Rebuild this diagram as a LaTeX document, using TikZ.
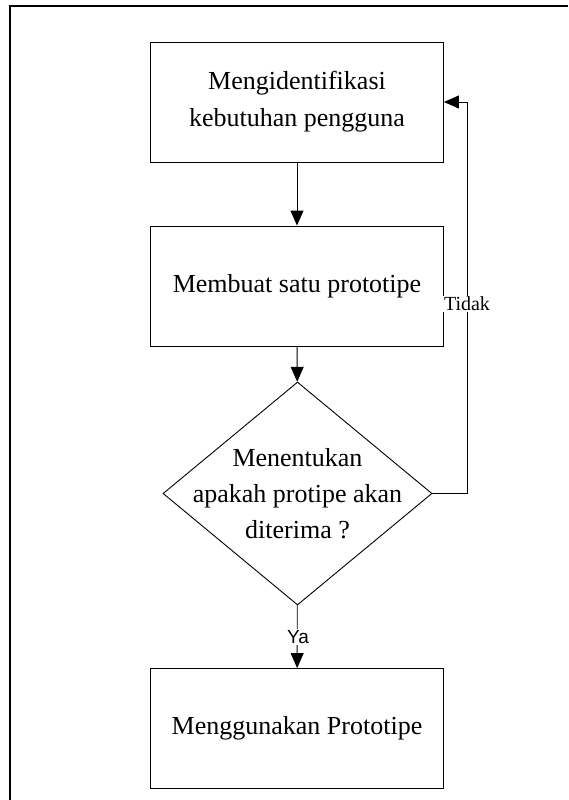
\documentclass[tikz,border=0pt]{standalone}
\usepackage{fontspec}
\setmainfont{Liberation Serif}
\newfontfamily\arialfont{Liberation Sans}
\usetikzlibrary{arrows.meta, shapes.geometric}

\begin{document}
\begin{tikzpicture}[x=1pt,y=-1pt,
    prosesbox/.style={draw,line width=0.9pt,minimum width=293pt,minimum height=120pt,
      inner sep=0pt,align=center,font=\fontsize{26}{37}\selectfont},
    keputusan/.style={draw,diamond,line width=0.9pt,minimum width=269pt,
      minimum height=223pt,inner sep=0pt},
    alur/.style={-{Triangle[length=15pt,width=13pt]},line width=0.9pt},
    ket/.style={fill=white,inner sep=1pt}]
        \useasboundingbox (0,0) rectangle (568,800);
        \draw[line width=1.5pt](568,6)--(10,6)--(10,800);
        % langkah-langkah
        \node[prosesbox] (identifikasi) at (297,102){Mengidentifikasi\\kebutuhan pengguna};
        \node[prosesbox] (prototipe) at (297,286){Membuat satu prototipe};
        \node[keputusan] (terima) at (297.5,493.5){};
        \node[align=center,font=\fontsize{26}{36}\selectfont] (tanya) at (terima.center)
          {Menentukan\\apakah protipe akan\\diterima ?};
        \node[prosesbox] (guna) at (297,728.5){Menggunakan Prototipe};
        % panah
        \draw[alur](identifikasi)--(prototipe);
        \draw[alur](prototipe)--(terima);
        \draw[alur](terima)--(guna);
        \node[ket,font=\arialfont\fontsize{19}{22}\selectfont] (ya) at (298,637){Ya};
        \draw[alur](terima.east)--++(35,0) coordinate (balik) |- (identifikasi.east);
        \node[ket,font=\fontsize{20}{24}\selectfont] (tidak) at (467,304){Tidak};
      \end{tikzpicture}
\end{document}
